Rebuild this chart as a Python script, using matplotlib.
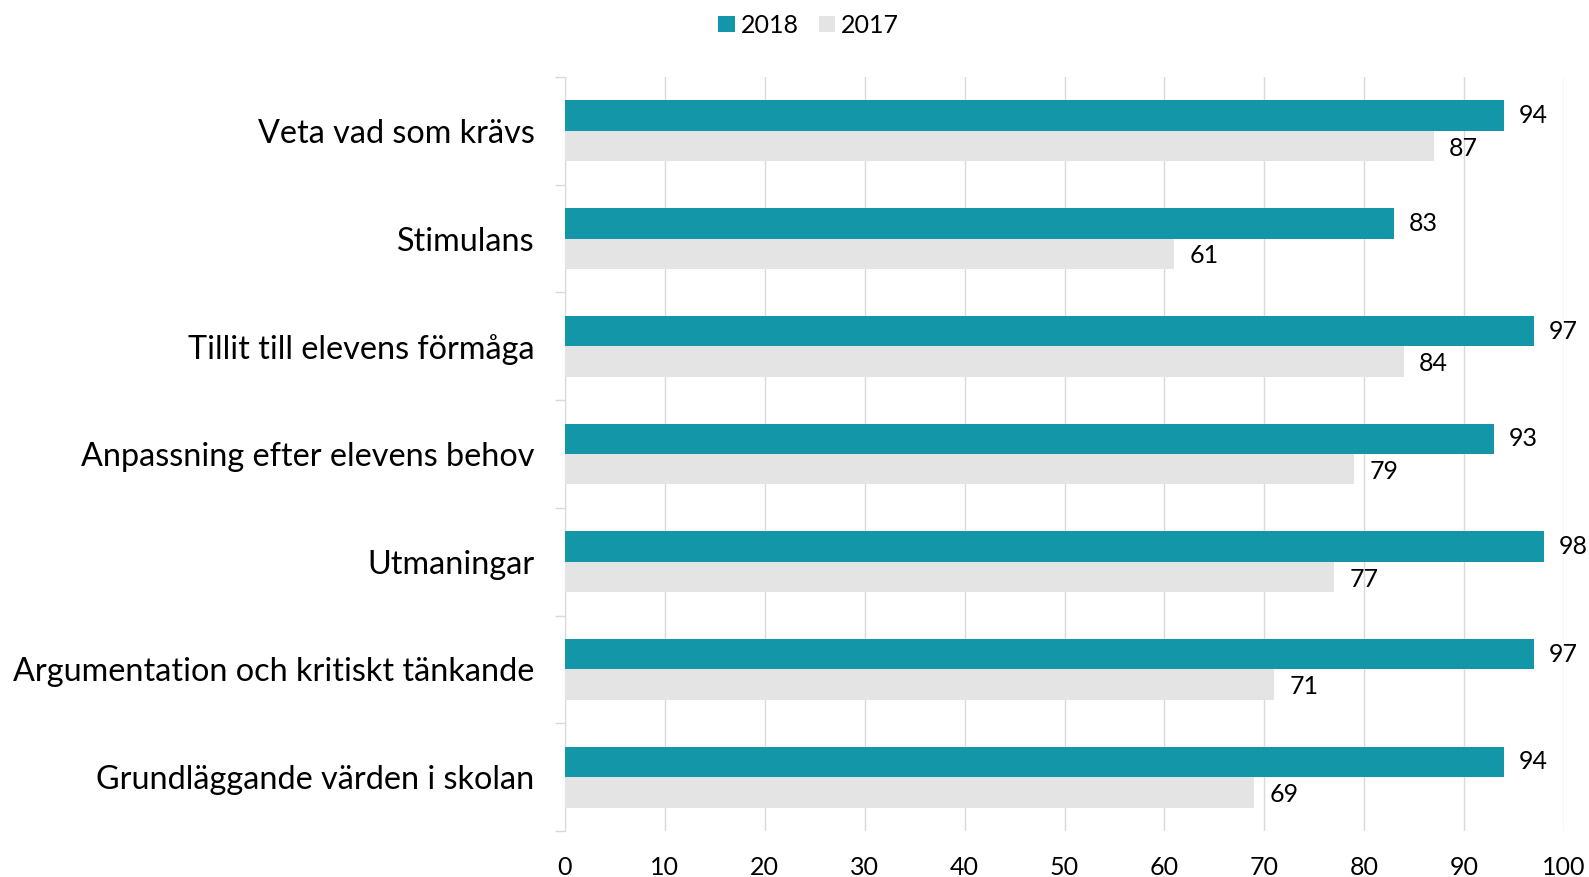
import matplotlib.pyplot as plt
import numpy as np

# Data
categories = [
    "Veta vad som krävs",
    "Stimulans",
    "Tillit till elevens förmåga",
    "Anpassning efter elevens behov",
    "Utmaningar",
    "Argumentation och kritiskt tänkande",
    "Grundläggande värden i skolan",
]
values_2018 = [94, 83, 97, 93, 98, 97, 94]
values_2017 = [87, 61, 84, 79, 77, 71, 69]
series_labels = ["2018", "2017"]

color_2018 = "#1296A8"
color_2017 = "#E4E4E4"

plt.rcParams['font.family'] = ['Lato', 'DejaVu Sans']

fig = plt.figure(figsize=(15.89, 8.77), dpi=100)
ax = fig.add_axes([565 / 1589, 1 - 831 / 877, (1564 - 565) / 1589, (831 - 77) / 877])

n = len(categories)
y = np.arange(n)
h = 0.283

bars18 = ax.barh(y - h / 2, values_2018, height=h, color=color_2018, label=series_labels[0], zorder=3)
bars17 = ax.barh(y + h / 2, values_2017, height=h, color=color_2017, label=series_labels[1], zorder=3)

for bar, v in zip(bars18, values_2018):
    ax.text(v + 1.5, bar.get_y() + bar.get_height() / 2, str(v), va="center", ha="left", fontsize=18)
for bar, v in zip(bars17, values_2017):
    ax.text(v + 1.5, bar.get_y() + bar.get_height() / 2 + 0.02, str(v), va="center", ha="left", fontsize=18)

ax.set_xlim(0, 100)
ax.set_ylim(n - 0.5, -0.5)
ax.set_xticks(np.arange(0, 101, 10))
ax.tick_params(axis="x", length=0, labelsize=18, pad=18)

# category labels at centres, tick marks on boundaries
ax.set_yticks(y)
ax.set_yticklabels(categories, fontsize=23.3)
ax.tick_params(axis="y", which="major", length=0, pad=22)
ax.set_yticks(np.arange(-0.5, n + 0.5, 1), minor=True)
ax.tick_params(axis="y", which="minor", length=7, color="#D9D9D9", width=1)

ax.grid(axis="x", color="#D9D9D9", linewidth=1, zorder=0)
for s in ["top", "right", "bottom"]:
    ax.spines[s].set_visible(False)
ax.spines["left"].set_color("#D9D9D9")

fig.legend(loc="upper center", bbox_to_anchor=(0.509, 1.01), ncol=2, frameon=False,
           fontsize=18, handlelength=0.65, handleheight=0.65, handletextpad=0.25, columnspacing=0.8)

plt.savefig("out.png", dpi=100)
